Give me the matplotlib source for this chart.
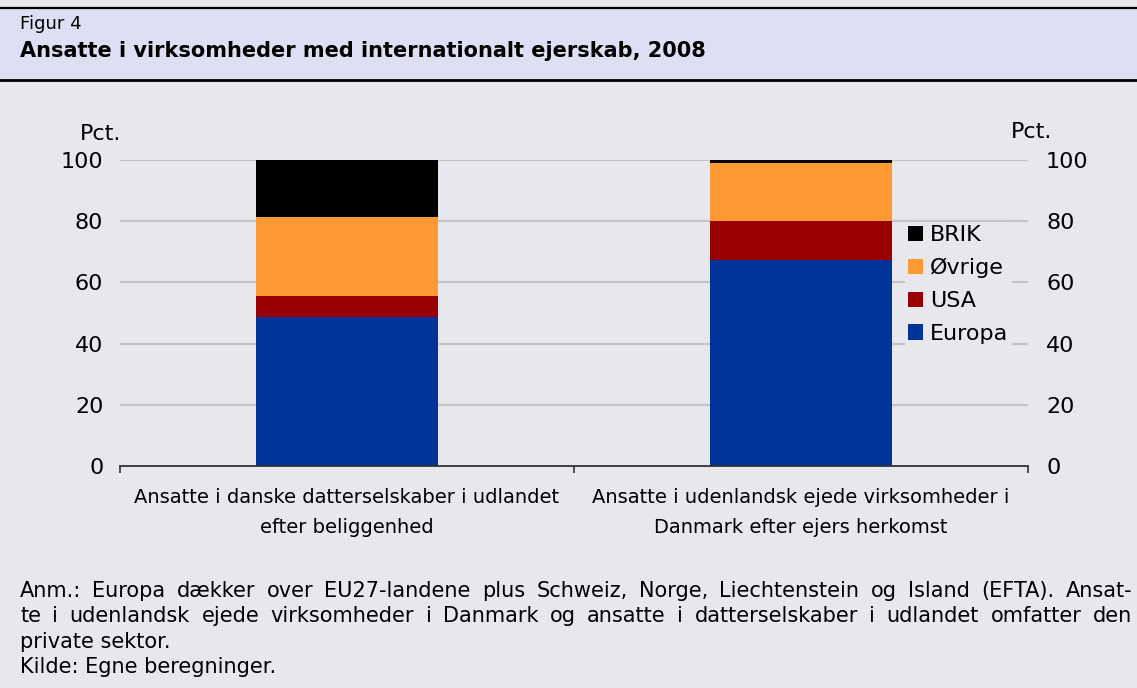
import numpy as np
import matplotlib
matplotlib.use("Agg")
import matplotlib.pyplot as plt

# data (pct.)
categories = ["Ansatte i danske datterselskaber i udlandet\nefter beliggenhed",
              "Ansatte i udenlandsk ejede virksomheder i\nDanmark efter ejers herkomst"]
europa = [48.8, 67.4]
usa = [6.8, 12.7]
ovrige = [25.7, 18.9]
brik = [18.7, 1.0]
series_names = ["Europa", "USA", "Øvrige", "BRIK"]
series_colors = ["#023399", "#990000", "#FF9933", "#000000"]
yticks = [0, 20, 40, 60, 80, 100]

bg = "#E8E7EE"
head = "#DEDFF3"
W, H = 1137, 688

plt.rcParams['font.family'] = ['DejaVu Sans']
fig = plt.figure(figsize=(W / 100, H / 100), dpi=100, facecolor=bg)

# header band
fig.patches.append(plt.Rectangle((0, 1 - 80 / H), 1, 71 / H, transform=fig.transFigure,
                                 facecolor=head, edgecolor="none", zorder=0))
fig.add_artist(plt.Line2D([0, 1], [1 - 8.3 / H, 1 - 8.3 / H], color="black", lw=1.6))
fig.add_artist(plt.Line2D([0, 1], [1 - 79.7 / H, 1 - 79.7 / H], color="black", lw=2))
fig.text(20 / W, 1 - 29.3 / H, "Figur 4", fontsize=13, va="baseline", ha="left")
fig.text(20 / W, 1 - 56.7 / H, "Ansatte i virksomheder med internationalt ejerskab, 2008",
         fontsize=15, fontweight="bold", va="baseline", ha="left")

ax = fig.add_axes([120 / W, (H - 466) / H, 908 / W, 306 / H])
ax.set_facecolor(bg)
x = np.arange(len(categories))
width = 0.4

for v in yticks[1:]:
    ax.axhline(v, color="#C4C4C4", lw=1.6, zorder=0)

bottom = np.zeros(len(categories))
bars = []
for vals, name, col in zip([europa, usa, ovrige, brik], series_names, series_colors):
    b = ax.bar(x, vals, width, bottom=bottom, color=col, label=name, zorder=2)
    bars.append(b)
    bottom += np.array(vals)

ax.set_xlim(-0.5, len(categories) - 0.5)
ax.set_ylim(0, 100)
for s in ["top", "left", "right"]:
    ax.spines[s].set_visible(False)
ax.spines["bottom"].set_color("#333333")
ax.spines["bottom"].set_linewidth(1.3)
ax.spines["bottom"].set_zorder(3)

ax.set_xticks([-0.5, 0.5, 1.5])
ax.set_xticklabels([])
ax.tick_params(axis="x", which="major", length=5, width=1.2, color="#333333")
ax.set_xticks(x, minor=True)
ax.set_xticklabels(categories, minor=True, fontsize=14, linespacing=1.7)
ax.tick_params(axis="x", which="minor", length=0, pad=16)

ax.set_yticks(yticks)
ax.set_yticklabels([str(v) for v in yticks], fontsize=16)
ax.tick_params(axis="y", length=0, pad=12)

ax2 = ax.twinx()
ax2.set_ylim(0, 100)
for s in ax2.spines.values():
    s.set_visible(False)
ax2.set_yticks(yticks)
ax2.set_yticklabels([str(v) for v in yticks], fontsize=16)
ax2.tick_params(axis="y", length=0, pad=13)

fig.text(101 / W, 1 - 134 / H, "Pct.", fontsize=16, ha="center", va="center")
fig.text(1032 / W, 1 - 132 / H, "Pct.", fontsize=16, ha="center", va="center")

leg = ax2.legend([bars[3], bars[2], bars[1], bars[0]], ["BRIK", "Øvrige", "USA", "Europa"],
                 loc="upper left", bbox_to_anchor=(905 / W, 1 - 222 / H),
                 bbox_transform=fig.transFigure, frameon=True, fontsize=16,
                 handlelength=0.68, handleheight=0.68, handletextpad=0.3,
                 labelspacing=0.57, borderpad=0.15, borderaxespad=0)
leg.get_frame().set_facecolor(bg)
leg.get_frame().set_edgecolor("none")
leg.get_frame().set_alpha(1)

# footnote, first two lines justified
notes = ["Anm.: Europa dækker over EU27-landene plus Schweiz, Norge, Liechtenstein og Island (EFTA). Ansat-",
         "te i udenlandsk ejede virksomheder i Danmark og ansatte i datterselskaber i udlandet omfatter den",
         "private sektor.",
         "Kilde: Egne beregninger."]
justify = [True, True, False, False]
left_px, right_px = 20, 1132
renderer = fig.canvas.get_renderer()
for i, line in enumerate(notes):
    y = 1 - (597 + 25.3 * i) / H
    if not justify[i]:
        fig.text(left_px / W, y, line, fontsize=15, ha="left", va="baseline")
        continue
    words = line.split(" ")
    objs = [fig.text(0, y, w, fontsize=15, ha="left", va="baseline") for w in words]
    widths = [o.get_window_extent(renderer).width for o in objs]
    gap = (right_px - left_px - sum(widths)) / (len(words) - 1)
    pos = left_px
    for o, wd in zip(objs, widths):
        o.set_x(pos / W)
        pos += wd + gap

fig.savefig("out.png", dpi=100, facecolor=bg)
